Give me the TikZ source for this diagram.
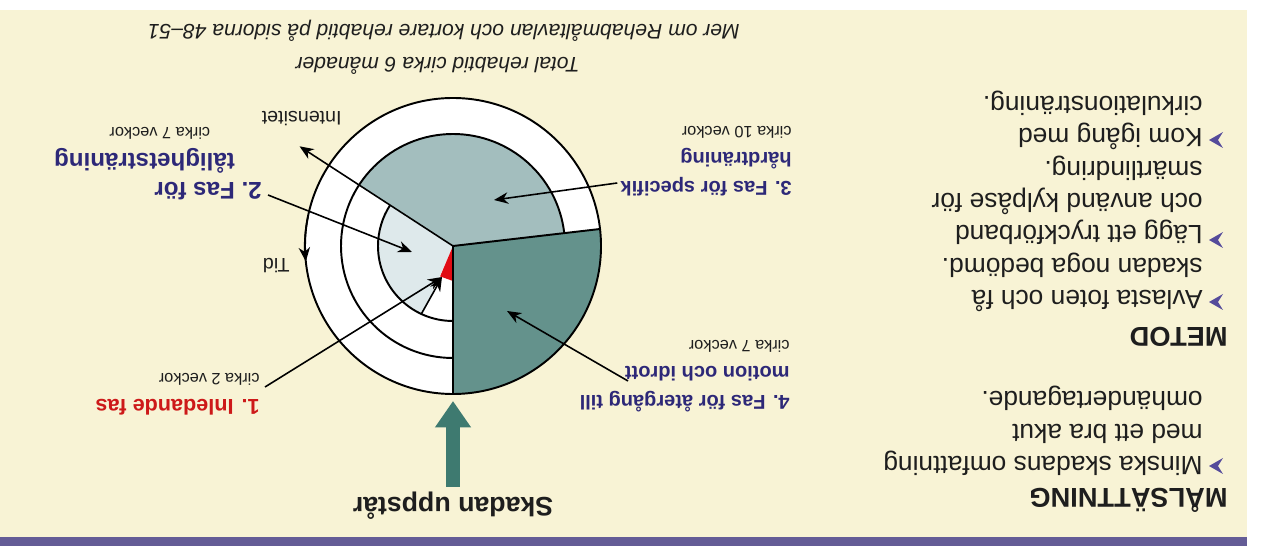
\documentclass[tikz,border=0pt]{standalone}
\usepackage{fontspec}
\setmainfont{Liberation Sans}
\usetikzlibrary{arrows.meta, calc, positioning}
\definecolor{cream}{RGB}{248,243,213}
\definecolor{barpurple}{RGB}{100,92,150}
\definecolor{fasone}{RGB}{225,12,20}
\definecolor{fastwo}{RGB}{222,233,235}
\definecolor{fasthree}{RGB}{163,190,190}
\definecolor{fasfour}{RGB}{100,146,140}
\definecolor{fasblue}{RGB}{45,40,120}
\definecolor{fasred}{RGB}{205,25,25}
\definecolor{arrowgreen}{RGB}{62,122,112}
\definecolor{bulletcol}{RGB}{85,75,155}
\definecolor{inkgray}{RGB}{30,30,30}
\newcommand\titlefont{\fontsize{11.4}{16.5}\selectfont\bfseries}
\newcommand\weekfont{\fontsize{9.3}{11}\selectfont\mdseries}
\newcommand\bodyfont{\fontsize{15}{18.4}\selectfont}
\tikzset{
  flip/.style={rotate=180,inner sep=0pt},
  phase/.style={flip,anchor=north west,font=\titlefont,text=fasblue},
  bodytext/.style={flip,anchor=north west,align=left,font=\bodyfont,text=inkgray},
  heading/.style={flip,anchor=west,font=\fontsize{15.5}{18}\selectfont\bfseries,text=inkgray},
  caption/.style={flip,anchor=west,font=\fontsize{12}{14}\selectfont\itshape,text=inkgray},
  axislabel/.style={flip,anchor=west,font=\fontsize{11.2}{13}\selectfont,text=inkgray},
  ring/.style={draw=black,line width=1.1pt},
  ptr/.style={-{Stealth[length=8pt,width=6.5pt,inset=2.5pt]},line width=0.9pt,color=black},
  bigarrow/.style={draw=arrowgreen,line width=8pt,-{Triangle[length=15pt,width=19.5pt]}}
}
\begin{document}
\begin{tikzpicture}[x=0.02cm,y=-0.02cm]
  \useasboundingbox (0,0) rectangle (1263,546);
  %% Page
  \fill[white] (0,0) rectangle (1263,546);
  \fill[cream] (0,10) rectangle (1247,537);
  \fill[barpurple] (0,537) rectangle (1247,546);

  %% Wheel sectors
  \coordinate (hub) at (453,246);
  \fill[white] (hub) circle[radius=148];
  \fill[fasfour] (hub) -- ++(-6.6:148) arc[start angle=-6.6,end angle=90,radius=148] -- cycle;
  \fill[fasthree] (hub) -- ++(213:112) arc[start angle=213,end angle=353.4,radius=112] -- cycle;
  \fill[fastwo] (hub) -- ++(114:75) arc[start angle=114,end angle=213,radius=75] -- cycle;
  \fill[fasone] (hub) -- ++(90:35) -- ($(hub)+(113:33)$) -- cycle;

  %% Rings and spokes
  \draw[ring] (hub) circle[radius=148];
  \draw[ring] ([shift={(90:112)}]hub) arc[start angle=90,end angle=353.4,radius=112];
  \draw[ring] ([shift={(90:75)}]hub) arc[start angle=90,end angle=213,radius=75];
  \draw[ring] (hub) -- ++(90:148);
  \draw[ring] (hub) -- ++(-6.6:148);

  %% Axes
  \coordinate (peak) at ($(hub)+(213:183)$);
  \draw[ptr] (hub) -- (peak);
  \draw[ptr] ([shift={(192:148)}]hub) arc[start angle=192,end angle=174,radius=148];
  \node[axislabel] (intens) at (342,119) {Intensitet};
  \node[axislabel] (tid) at (290,266) {Tid};

  %% Pointer targets
  \coordinate (tipone) at (442,277);
  \coordinate (tiptwo) at (412,252);
  \coordinate (tipthree) at (494,200);
  \coordinate (tipfour) at (507,311);
  \coordinate (hit) at (453,401);

  %% Phase labels
  \node[phase,text=fasred,font=\fontsize{12.3}{16.5}\selectfont\bfseries] (fas1) at (260,420)
      {\begin{tabular}[t]{@{}l@{}}1. Inledande fas\\[-2pt]
       {\weekfont\color{inkgray}cirka 2 veckor}\end{tabular}};
  \node[phase,font=\fontsize{13.7}{16.5}\selectfont\bfseries] (fas2) at (262,203)
      {\begin{tabular}[t]{@{}l@{}l@{}}2.\kern.28em & Fas för\\ & tålighetsträning\\[-2pt]
       & \kern14pt{\weekfont\color{inkgray}cirka 7 veckor}\end{tabular}};
  \node[phase] (fas3) at (792,202)
      {\begin{tabular}[t]{@{}l@{}}3. Fas för specifik\\ hårdträning\\[-2pt]
       {\weekfont\color{inkgray}cirka 10 veckor}\end{tabular}};
  \node[phase] (fas4) at (790,416)
      {\begin{tabular}[t]{@{}l@{}}4. Fas för återgång till\\ motion och idrott\\[-2pt]
       {\weekfont\color{inkgray}cirka 7 veckor}\end{tabular}};

  \draw[ptr] ([shift={(5,-33)}]fas1.north west) -- (tipone);
  \draw[ptr] ($(hub)+(115:75)$) -- (tipone);
  \draw[ptr] ([shift={(6,-8)}]fas2.north west) -- (tiptwo);
  \draw[ptr] ([shift={(-3,-19)}]fas3.north east) -- (tipthree);
  \draw[ptr] ([shift={(-162,-35)}]fas4.north west) -- (tipfour);

  %% Captions
  \node[caption] (merom) at (740,31) {Mer om Rehabmåltavlan och kortare rehabtid på sidorna 48–51};
  \node[caption] (total) at (580,66) {Total rehabtid cirka 6 månader};

  %% Injury arrow
  \node[flip,inner sep=3pt,font=\fontsize{15.2}{18}\selectfont\bfseries,text=inkgray] (skada) at (453,506) {Skadan uppstår};
  \draw[bigarrow] (skada.south) -- (hit);

  %% Goal and method column
  \node[heading] (malhead) at (1228,500) {MÅLSÄTTNING};
  \node[bodytext] (maltext) at (1203,476)
      {Minska skadans omfattning\\med ett bra akut\\omhändertagande.};
  \node[heading] (metodhead) at (1228,337) {METOD};
  \node[bodytext] (metodtext) at (1203,312)
      {Avlasta foten och få\\skadan noga bedömd.\\Lägg ett tryckförband\\och använd kylpåse för\\smärtlindring.\\Kom igång med\\cirkulationsträning.};
  \foreach \by in {466,302,240,140}
    \fill[bulletcol] (1209,\by) -- ++(14,-8) -- ++(-5,8) -- ++(5,8) -- cycle;
\end{tikzpicture}
\end{document}
